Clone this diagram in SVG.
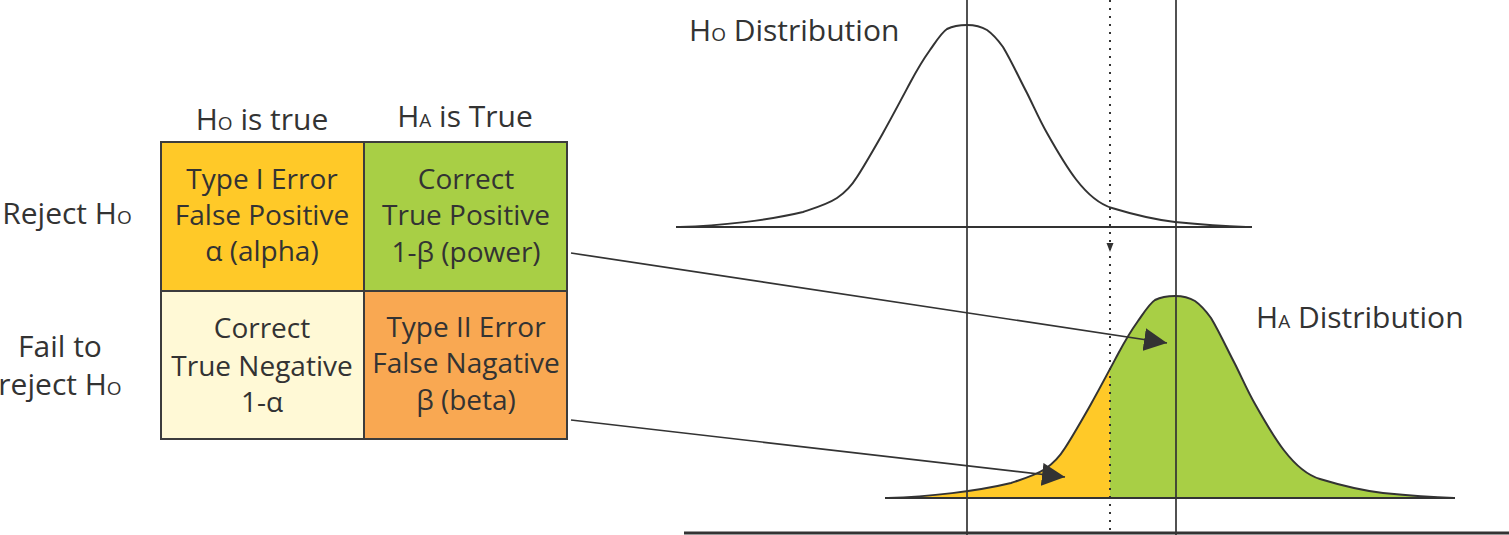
<svg xmlns="http://www.w3.org/2000/svg" xmlns:xlink="http://www.w3.org/1999/xlink" width="1509" height="535" viewBox="0 0 1509 535">
<style>
text{font-family:"Open Sans","Noto Sans","Liberation Sans",sans-serif;fill:#333;font-size:28px;text-anchor:middle}
.big{font-size:30px}
.sub{font-size:19px}
.cell{stroke:#3c3c3c;stroke-width:2}
.ln{stroke:#333;stroke-width:1.7;fill:none}
.curve{stroke:#333;stroke-width:2;fill:none}
.dot{stroke:#333;stroke-width:2;stroke-dasharray:2 6;fill:none}
</style>
<defs>
<path id="bell" d="M680,227 C720,226 770,220 803,212 C818,207 828,204 837,198 C846,192 852,185 857,177 C866,163 875,147 883,133 C893,115 902,98 910,83 C918,68 925,57 930,50 C937,40 942,32 947,29 C953,26 960,25 967,25 C975,25 982,27 987,30 C994,35 998,40 1003,47 C1012,62 1020,80 1027,93 C1034,107 1040,121 1047,133 C1065,165 1085,200 1112,208 C1135,215 1158,220 1175,222 C1195,224 1215,226 1246,227"/>
<clipPath id="clipL"><rect x="800" y="250" width="310" height="260"/></clipPath>
<clipPath id="clipR"><rect x="1110" y="250" width="400" height="260"/></clipPath>
<marker id="ah" viewBox="0 0 10 10" refX="10" refY="5" markerWidth="23" markerHeight="23" markerUnits="userSpaceOnUse" orient="auto"><path d="M0,0 L10,5 L0,10 Z" fill="#333"/></marker>
</defs>

<g id="table">
<g id="cell-type1"><rect class="cell" x="161" y="142" width="203" height="149" fill="#FFC928"/>
<text x="262" y="189">Type I Error</text><text x="262" y="225">False Positive</text><text x="262" y="261">α (alpha)</text></g>
<g id="cell-tp"><rect class="cell" x="364" y="142" width="203" height="149" fill="#A8CF45"/>
<text x="466" y="189">Correct</text><text x="466" y="225">True Positive</text><text x="466" y="262">1-β (power)</text></g>
<g id="cell-tn"><rect class="cell" x="161" y="291" width="203" height="148" fill="#FFF9D6"/>
<text x="262" y="338">Correct</text><text x="262" y="376">True Negative</text><text x="262" y="412">1-α</text></g>
<g id="cell-type2"><rect class="cell" x="364" y="291" width="203" height="148" fill="#F9A852"/>
<text x="466" y="337">Type II Error</text><text x="466" y="373">False Nagative</text><text x="466" y="410">β (beta)</text></g>
</g>

<g id="labels">
<text class="big" x="262" y="130">H<tspan class="sub">O</tspan> is true</text>
<text class="big" x="465" y="127">H<tspan class="sub">A</tspan> is True</text>
<text class="big" x="67" y="224">Reject H<tspan class="sub">O</tspan></text>
<text class="big" x="60" y="357">Fail to</text>
<text class="big" x="60" y="395">reject H<tspan class="sub">O</tspan></text>
<text class="big" x="689" y="41" style="text-anchor:start">H<tspan class="sub">O</tspan> Distribution</text>
<text class="big" x="1256" y="328" style="text-anchor:start">H<tspan class="sub">A</tspan> Distribution</text>
</g>

<g id="ha-dist">
<g clip-path="url(#clipL)"><use xlink:href="#bell" transform="translate(208,271)" fill="#FFC928"/></g>
<g clip-path="url(#clipR)"><use xlink:href="#bell" transform="translate(208,271)" fill="#A8CF45"/></g>
</g>

<g id="axes">
<line class="ln" x1="967" y1="0" x2="967" y2="535"/>
<line class="ln" x1="1176" y1="0" x2="1176" y2="535"/>
<line class="dot" x1="1110" y1="0" x2="1110" y2="532"/>
<line class="ln" x1="676" y1="227" x2="1252" y2="227" style="stroke-width:2"/>
<line class="ln" x1="885" y1="498" x2="1455" y2="498" style="stroke-width:2"/>
<line class="ln" x1="684" y1="533" x2="1509" y2="533" style="stroke-width:3"/>
</g>

<g id="ho-curve"><use xlink:href="#bell" class="curve"/></g>
<g id="ha-curve"><use xlink:href="#bell" class="curve" transform="translate(208,271)"/></g>

<g id="connectors">
<line class="ln" x1="571" y1="253" x2="1167" y2="343" marker-end="url(#ah)"/>
<line class="ln" x1="571" y1="420" x2="1065" y2="477" marker-end="url(#ah)"/>
<path d="M1106.5,243 L1113.5,243 L1110,252 Z" fill="#333"/>
</g>
</svg>
